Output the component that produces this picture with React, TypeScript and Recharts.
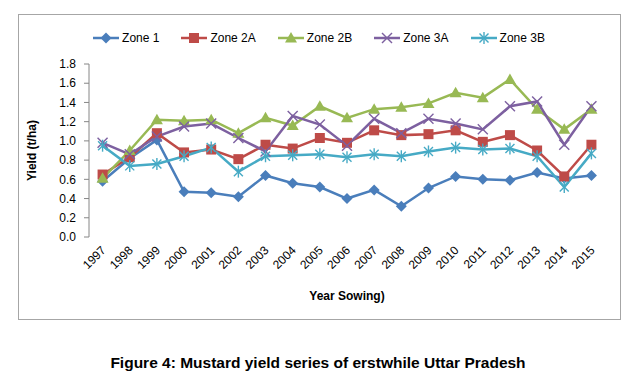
import React from 'react';
import { LineChart, Line, XAxis, YAxis, Label } from 'recharts';

const years = ['1997','1998','1999','2000','2001','2002','2003','2004','2005','2006','2007','2008','2009','2010','2011','2012','2013','2014','2015'];
const zone1 = [0.58,0.82,1.01,0.47,0.46,0.42,0.64,0.56,0.52,0.40,0.49,0.32,0.51,0.63,0.60,0.59,0.67,0.61,0.64];
const zone2A = [0.65,0.83,1.08,0.88,0.91,0.81,0.96,0.92,1.03,0.98,1.11,1.06,1.07,1.11,0.99,1.06,0.90,0.63,0.96];
const zone2B = [0.61,0.90,1.22,1.21,1.22,1.08,1.24,1.16,1.36,1.24,1.33,1.35,1.39,1.50,1.45,1.64,1.33,1.12,1.33];
const zone3A = [0.98,0.86,1.045,1.15,1.18,1.03,0.89,1.26,1.17,0.95,1.23,1.08,1.23,1.18,1.12,1.36,1.41,0.96,1.36];
const zone3B = [0.95,0.74,0.76,0.84,0.93,0.68,0.84,0.85,0.86,0.83,0.86,0.84,0.89,0.93,0.91,0.92,0.84,0.52,0.87];
const yTicks = [0, 0.2, 0.4, 0.6, 0.8, 1.0, 1.2, 1.4, 1.6, 1.8];

const FONT = '"Liberation Sans", Arial, sans-serif';

type Shape = 'diamond' | 'square' | 'triangle' | 'x' | 'star';

const series: { key: string; name: string; color: string; shape: Shape }[] = [
  { key: 'z1', name: 'Zone 1', color: '#4A7EBB', shape: 'diamond' },
  { key: 'z2a', name: 'Zone 2A', color: '#BE4B48', shape: 'square' },
  { key: 'z2b', name: 'Zone 2B', color: '#98B954', shape: 'triangle' },
  { key: 'z3a', name: 'Zone 3A', color: '#7D60A0', shape: 'x' },
  { key: 'z3b', name: 'Zone 3B', color: '#46AAC5', shape: 'star' },
];

const data = years.map((y, i) => ({
  i,
  year: y,
  z1: zone1[i],
  z2a: zone2A[i],
  z2b: zone2B[i],
  z3a: zone3A[i],
  z3b: zone3B[i],
}));

function marker(shape: Shape, cx: number, cy: number, color: string, k?: string | number) {
  switch (shape) {
    case 'diamond':
      return <polygon key={k} points={`${cx},${cy - 5.5} ${cx + 5.5},${cy} ${cx},${cy + 5.5} ${cx - 5.5},${cy}`} fill={color} />;
    case 'square':
      return <rect key={k} x={cx - 5} y={cy - 5} width={10} height={10} fill={color} />;
    case 'triangle':
      return <polygon key={k} points={`${cx},${cy - 6} ${cx + 6},${cy + 4.5} ${cx - 6},${cy + 4.5}`} fill={color} />;
    case 'x':
      return (
        <g key={k} stroke={color} strokeWidth={1.4}>
          <line x1={cx - 5} y1={cy - 5} x2={cx + 5} y2={cy + 5} />
          <line x1={cx - 5} y1={cy + 5} x2={cx + 5} y2={cy - 5} />
        </g>
      );
    case 'star':
    default:
      return (
        <g key={k} stroke={color} strokeWidth={1.4}>
          <line x1={cx - 4.5} y1={cy - 4.5} x2={cx + 4.5} y2={cy + 4.5} />
          <line x1={cx - 4.5} y1={cy + 4.5} x2={cx + 4.5} y2={cy - 4.5} />
          <line x1={cx} y1={cy - 6} x2={cx} y2={cy + 6} />
        </g>
      );
  }
}

const XTick = (props: any) => {
  const { x, y, payload } = props;
  const tx = x + 1;
  const ty = y + 5;
  return (
    <text
      x={tx}
      y={ty}
      dy="0.35em"
      transform={`rotate(-45 ${tx} ${ty})`}
      textAnchor="end"
      fontSize={12}
      fontFamily={FONT}
      fill="#000"
    >
      {years[payload.value]}
    </text>
  );
};

const boundaryTicks = years.map((_, i) => i - 0.5).concat([years.length - 0.5]);
const centerTicks = years.map((_, i) => i);

export default function App() {
  return (
    <div style={{ position: 'absolute', left: 0, top: 0, width: 634, height: 381, background: '#fff', fontFamily: FONT }}>
      <div
        style={{
          position: 'absolute',
          left: 18,
          top: 14,
          width: 601,
          height: 304,
          border: '1px solid #a6a6a6',
        }}
      />
      <div
        style={{
          position: 'absolute',
          left: 18,
          top: 31,
          width: 602,
          height: 14,
          display: 'flex',
          justifyContent: 'center',
          alignItems: 'center',
          fontSize: 12,
          color: '#000',
        }}
      >
        {series.map((s, idx) => (
          <div key={s.key} style={{ display: 'flex', alignItems: 'center', marginRight: idx < series.length - 1 ? 22 : 0 }}>
            <svg width={26} height={14} style={{ marginRight: 3 }}>
              <line x1={0} y1={7} x2={26} y2={7} stroke={s.color} strokeWidth={2.5} />
              {marker(s.shape, 13, 7, s.color)}
            </svg>
            <span>{s.name}</span>
          </div>
        ))}
      </div>
      <div style={{ position: 'absolute', left: 0, top: 0 }}>
        <LineChart width={634} height={330} data={data} margin={{ top: 64, right: 29, bottom: 43, left: 29 }}>
          <XAxis
            xAxisId="b"
            dataKey="i"
            type="number"
            domain={[-0.5, years.length - 0.5]}
            ticks={boundaryTicks}
            tick={false}
            tickSize={5}
            height={0}
            stroke="#868686"
            axisLine={{ stroke: '#868686' }}
            tickLine={{ stroke: '#868686' }}
            allowDataOverflow
          />
          <XAxis
            xAxisId="a"
            dataKey="i"
            type="number"
            domain={[-0.5, years.length - 0.5]}
            ticks={centerTicks}
            tick={<XTick />}
            tickLine={false}
            axisLine={false}
            tickSize={0}
            tickMargin={6}
            height={50}
            interval={0}
            allowDataOverflow
          >
            <Label
              value="Year Sowing)"
              position="bottom"
              offset={4}
              style={{ fontFamily: FONT, fontSize: 12, fontWeight: 'bold', fill: '#000' }}
            />
          </XAxis>
          <YAxis
            domain={[0, 1.8]}
            ticks={yTicks}
            tickFormatter={(v: number) => v.toFixed(1)}
            width={60}
            tickSize={5}
            tickMargin={8}
            interval={0}
            axisLine={{ stroke: '#868686' }}
            tickLine={{ stroke: '#868686' }}
            tick={{ fill: '#000', fontSize: 12, fontFamily: FONT }}
          >
            <Label
              value="Yield (t/ha)"
              angle={-90}
              position="insideLeft"
              offset={3}
              style={{ fontFamily: FONT, fontSize: 12, fontWeight: 'bold', fill: '#000', textAnchor: 'middle' }}
            />
          </YAxis>
          {series.map((s) => (
            <Line
              key={s.key}
              xAxisId="a"
              dataKey={s.key}
              name={s.name}
              stroke={s.color}
              strokeWidth={2.5}
              isAnimationActive={false}
              dot={(p: any) => marker(s.shape, p.cx, p.cy, s.color, `${s.key}-${p.index}`)}
              activeDot={false}
            />
          ))}
        </LineChart>
      </div>
      <div
        style={{
          position: 'absolute',
          left: 0,
          top: 354,
          width: 636,
          textAlign: 'center',
          fontSize: 15.5,
          fontWeight: 'bold',
          color: '#000',
        }}
      >
        Figure 4: Mustard yield series of erstwhile Uttar Pradesh
      </div>
    </div>
  );
}
